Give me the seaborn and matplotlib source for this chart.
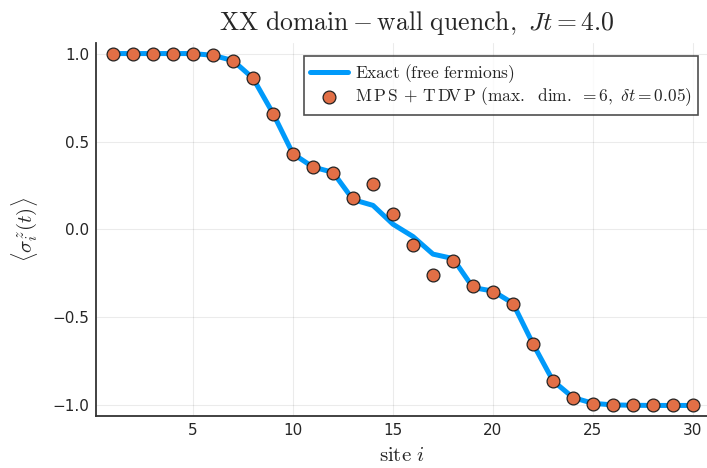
import numpy as np
import pandas as pd
import matplotlib
matplotlib.use("Agg")
import matplotlib.pyplot as plt
import seaborn as sns

sites = list(range(1, 31))
exact = [1.0, 1.0, 1.0, 1.0, 1.0, 0.99, 0.96, 0.86, 0.66, 0.43,
         0.355, 0.325, 0.17, 0.137, 0.03, -0.04, -0.14, -0.165, -0.33, -0.35,
         -0.42, -0.65, -0.86, -0.955, -0.988, -0.997, -0.999, -1.0, -1.0, -1.0]
mps = [1.0, 1.0, 1.0, 1.0, 1.0, 0.99, 0.96, 0.86, 0.655, 0.43,
       0.355, 0.32, 0.178, 0.26, 0.087, -0.09, -0.26, -0.18, -0.32, -0.355,
       -0.425, -0.65, -0.86, -0.955, -0.99, -0.998, -0.999, -1.0, -1.0, -1.0]
xticks = [5, 10, 15, 20, 25, 30]
yticks = [-1.0, -0.5, 0.0, 0.5, 1.0]

df = pd.DataFrame({"site": sites, "exact": exact, "mps": mps})

sns.set_theme(style="white")
plt.rcParams["mathtext.fontset"] = "cm"
plt.rcParams["font.family"] = ["DejaVu Sans"]
plt.rcParams["axes.unicode_minus"] = True

fig = plt.figure(figsize=(7.07, 4.68), dpi=100)
ax = fig.add_axes([96/707, 52/468, 611/707, 373/468])

sns.lineplot(data=df, x="site", y="exact", ax=ax, color="#009AFA", linewidth=3.6,
             label=r"$\mathrm{Exact\ (free\ fermions)}$", zorder=2)
sns.scatterplot(data=df, x="site", y="mps", ax=ax, color="#E26F46", s=85,
                edgecolor="#222222", linewidth=0.9, zorder=3,
                label=r"$\mathrm{M\,P\,S\,+\,T\,D\!V\,P\ (max.\ \ dim.\ =6,}\ \delta t=0.05)$")

ax.set_xlim(0.15, 30.7)
ax.set_ylim(-1.06, 1.06)
ax.set_xticks(xticks)
ax.set_yticks(yticks)
ax.set_xticklabels([str(v) for v in xticks], fontsize=11)
ax.set_yticklabels([f"{v:.1f}".replace("-", "\u2212") for v in yticks], fontsize=11)
ax.tick_params(direction="in", length=4, width=1.2, color="#333333", pad=5)
ax.grid(True, color="#000000", alpha=0.08, linewidth=0.8)
for s in ["top", "right"]:
    ax.spines[s].set_visible(False)
for s in ["left", "bottom"]:
    ax.spines[s].set_color("#333333")
    ax.spines[s].set_linewidth(1.3)

ax.set_xlabel(r"$\mathrm{site}\ i$", fontsize=15, labelpad=5)
ax.set_ylabel(r"$\langle\sigma_i^z(t)\rangle$", fontsize=15, labelpad=9)
ax.set_title(r"$\mathrm{XX\ domain-wall\ quench},\ Jt=4.0$", fontsize=18.5, pad=9, x=0.525)

leg = ax.legend(loc="upper right", bbox_to_anchor=(0.985, 0.965), borderaxespad=0,
                fontsize=12.5, frameon=True, fancybox=False, borderpad=0.35,
                labelspacing=0.05, handlelength=2.2, handletextpad=0.4)
leg.get_frame().set_edgecolor("#222222")
leg.get_frame().set_linewidth(1.2)

fig.savefig("out.png", dpi=100)
